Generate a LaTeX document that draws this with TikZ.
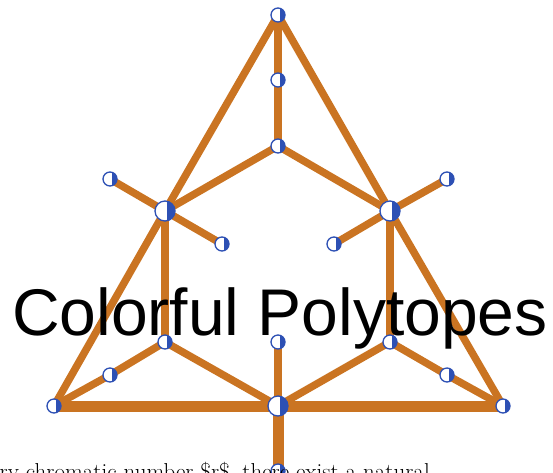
\documentclass[tikz,border=0pt]{standalone}
\usepackage{fontspec}
\newfontfamily\arialfont{Liberation Sans}
\usetikzlibrary{backgrounds}
\definecolor{edgeorange}{RGB}{202,116,34}
\definecolor{vtxblue}{RGB}{45,80,180}
\begin{document}
\begin{tikzpicture}[x=1pt,y=-1pt,
  vtx/.style={circle,draw=vtxblue,line width=1.3pt,fill=white,inner sep=0pt,minimum size=14pt,
    path picture={\fill[vtxblue] ([xshift=1.5pt]path picture bounding box.north) rectangle (path picture bounding box.south east);}},
  bigvtx/.style={vtx,minimum size=20pt},
  edge/.style={draw=edgeorange,line width=7.5pt},
  thickedge/.style={draw=edgeorange,line width=11pt}]
\useasboundingbox (0,0) rectangle (553,472);
\node[vtx] (T) at (278,15) {};
\node[vtx] (T2) at (278,80) {};
\node[vtx] (T3) at (278,146) {};
\node[bigvtx] (L) at (165,211) {};
\node[bigvtx] (R) at (390,211) {};
\node[vtx] (Lo) at (110,179) {};
\node[vtx] (Li) at (222,244) {};
\node[vtx] (Ro) at (447,179) {};
\node[vtx] (Ri) at (334,244) {};
\node[vtx] (LB) at (165,342) {};
\node[vtx] (M) at (278,342) {};
\node[vtx] (RB) at (390,342) {};
\node[vtx] (Ls) at (110,375) {};
\node[vtx] (Rs) at (447,375) {};
\node[vtx] (BL) at (54,406) {};
\node[bigvtx] (BM) at (278,406) {};
\node[vtx] (BR) at (503,406) {};
\node[vtx] (Bot) at (278,471) {};
\begin{scope}[on background layer]
\draw[edge] (T.center) -- (T2.center) -- (T3.center);
\draw[edge] (L.center) -- (T3.center) -- (R.center);
\draw[edge] (T.center) -- (L.center) -- (BL.center);
\draw[edge] (T.center) -- (R.center) -- (BR.center);
\draw[edge] (Lo.center) -- (L.center) -- (Li.center);
\draw[edge] (Ro.center) -- (R.center) -- (Ri.center);
\draw[edge] (L.center) -- (LB.center);
\draw[edge] (R.center) -- (RB.center);
\draw[edge] (BL.center) -- (Ls.center) -- (LB.center) -- (BM.center);
\draw[edge] (BR.center) -- (Rs.center) -- (RB.center) -- (BM.center);
\draw[edge] (M.center) -- (BM.center);
\draw[thickedge] (BM.center) -- (Bot.center);
\draw[thickedge] (BL.center) -- (BM.center) -- (BR.center);
\end{scope}
\node[anchor=base,inner sep=0pt,font=\arialfont\fontsize{66}{70}\selectfont] (title) at (280,335) {Colorful Polytopes};
\node[anchor=base east,inner sep=0pt,font=\fontsize{23}{26}\selectfont] (caption) at (430,479) {ry chromatic number \$r\$, there exist a natural};
\end{tikzpicture}
\end{document}
